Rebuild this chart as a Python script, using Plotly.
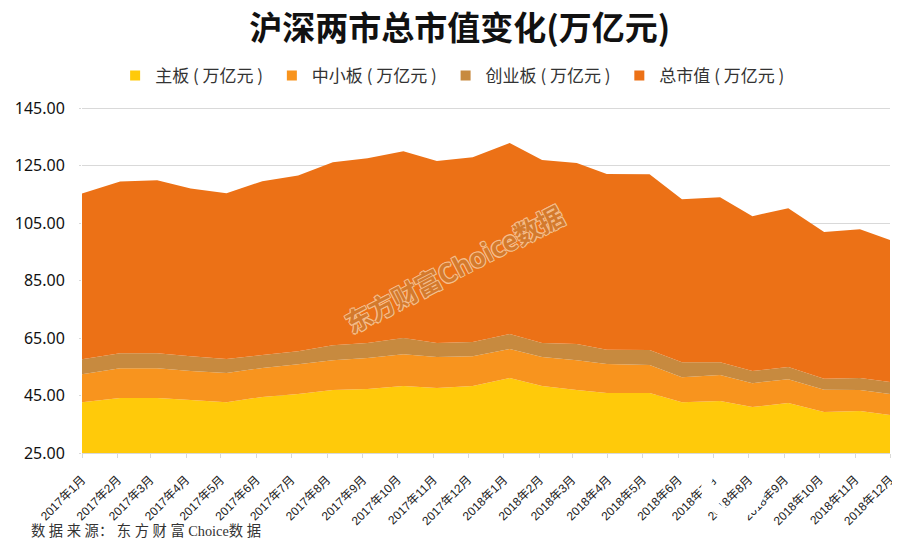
import plotly.graph_objects as go

# points sit a few days off the month starts
dates = ['2017-01-01', '2017-02-03', '2017-03-07', '2017-04-05', '2017-05-06', '2017-06-06',
         '2017-07-07', '2017-08-06', '2017-09-05', '2017-10-06', '2017-11-04', '2017-12-05',
         '2018-01-06', '2018-02-03', '2018-03-05', '2018-03-31', '2018-05-07', '2018-06-04',
         '2018-07-07', '2018-08-04', '2018-09-04', '2018-10-05', '2018-11-05', '2018-12-01']
main_board = [42.7, 44.1, 44.1, 43.4, 42.7, 44.5, 45.5, 46.9, 47.3, 48.3, 47.6, 48.3,
              51.1, 48.3, 46.9, 45.9, 45.9, 42.7, 43.1, 41.0, 42.4, 39.3, 39.6, 38.2]
sme_board = [9.7, 10.4, 10.4, 10.1, 10.1, 10.1, 10.4, 10.4, 10.8, 11.1, 10.8, 10.4,
             10.1, 10.1, 10.4, 10.1, 9.7, 8.7, 9.0, 8.3, 8.3, 7.7, 7.3, 7.3]
gem_board = [5.2, 5.2, 5.2, 5.2, 4.9, 4.5, 4.5, 5.2, 5.2, 5.6, 4.9, 4.9,
             5.2, 4.9, 5.6, 4.9, 5.2, 5.2, 4.5, 4.2, 4.2, 3.8, 4.2, 4.2]
total = [57.7, 59.8, 60.2, 58.3, 57.7, 60.5, 61.2, 63.7, 64.3, 65.0, 63.3, 64.3,
         66.5, 63.7, 63.0, 61.2, 61.2, 56.7, 57.4, 53.9, 55.3, 51.1, 51.8, 49.4]

# trailing nbsp only widens the legend entries
names = ['主板 ( 万亿元 )\u00a0', '中小板 ( 万亿元 )\u00a0', '创业板 ( 万亿元 )\u00a0', '总市值 ( 万亿元 )']
colors = ['#FFCA0A', '#F8941E', '#C78A3F', '#EC7116']

tick_dates = ['2017-%02d-01' % m for m in range(1, 13)] + ['2018-%02d-01' % m for m in range(1, 13)]
tick_labels = ['2017年%d月' % m for m in range(1, 13)] + ['2018年%d月' % m for m in range(1, 13)]
y_ticks = [25, 45, 65, 85, 105, 125, 145]

fig = go.Figure()
for name, vals, col in zip(names, [main_board, sme_board, gem_board, total], colors):
    fig.add_trace(go.Scatter(x=dates, y=vals, name=name.strip(), stackgroup='one', mode='none',
                             fillcolor=col, showlegend=False))
    # square legend swatch, the area traces would get a wide bar
    fig.add_trace(go.Scatter(x=[None], y=[None], name=name, mode='markers',
                             marker=dict(symbol='square', size=10, color=col)))

fig.update_layout(
    width=900, height=543,
    margin=dict(l=74, r=18, t=99, b=98),
    paper_bgcolor='white', plot_bgcolor='white',
    showlegend=True,
    font=dict(family='Noto Sans CJK SC', color='#222222'),
    title=dict(text='<b>沪深两市总市值变化(万亿元)</b>', x=0.502, xanchor='center', y=0.963, yanchor='middle',
               font=dict(size=33, color='#111111')),
    legend=dict(orientation='h', x=0.041, xanchor='left', y=1.09, yanchor='middle',
                font=dict(size=17, color='#333333'), entrywidth=0, traceorder='normal'),
    xaxis=dict(type='date', range=['2017-01-01', '2018-12-01'], tickmode='array',
               tickvals=tick_dates, ticktext=tick_labels, tickangle=-45, automargin=False,
               tickfont=dict(family='Liberation Sans, Noto Sans CJK SC', size=12, color='#222222'),
               ticks='outside', ticklen=4, tickcolor='#D9D9D9', ticklabelstandoff=10, showgrid=False,
               showline=True, linecolor='#D9D9D9'),
    # a little headroom, plotly drops a gridline sitting right on the range end
    yaxis=dict(range=[25, 145.4], tickmode='array', tickvals=y_ticks, automargin=False,
               ticktext=['%.2f' % v for v in y_ticks],
               tickfont=dict(family='Noto Sans', size=16, color='#111111'),
               ticks='outside', ticklen=2, tickcolor='#D9D9D9', ticklabelstandoff=11,
               showgrid=True, gridcolor='#D9D9D9', gridwidth=1, zeroline=False, showline=False),
)

# stamp over the chart
fig.add_annotation(text='东方财富Choice数据', xref='paper', yref='paper', x=0.461, y=0.535,
                   showarrow=False, textangle=-27.5,
                   font=dict(family='Noto Sans CJK SC', size=26, weight=700, color='#D47A2C',
                             shadow='1px 1px 0 #F5BE8C, -1px -1px 0 #F5BE8C, 1px -1px 0 #F5BE8C, -1px 1px 0 #F5BE8C'))
fig.add_annotation(text='数 据 来 源： 东 方 财 富 Choice数 据', xref='paper', yref='paper',
                   x=-0.066, y=-0.223, xanchor='left', yanchor='middle', showarrow=False,
                   font=dict(family='Liberation Serif, Noto Sans CJK SC', size=14.3, color='#333333'))

# round seal that wipes part of the tick labels
fig.add_shape(type='circle', xref='paper', yref='paper', xsizemode='pixel', ysizemode='pixel',
              xanchor=0.806, yanchor=-0.098, x0=-27, x1=27, y0=-27, y1=27,
              line=dict(color='white', width=10), layer='above')

fig.write_html('out.html')
